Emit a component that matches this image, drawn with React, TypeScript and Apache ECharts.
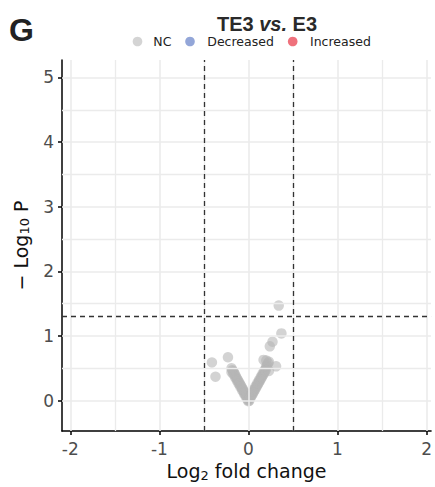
import React, { useEffect, useRef } from "react";
import * as echarts from "echarts";

const xTicks = [-2, -1, 0, 1, 2];
const yTicks = [0, 1, 2, 3, 4, 5];
const xMinor = [-1.5, -0.5, 0.5, 1.5];
const yMinor = [0.5, 1.5, 2.5, 3.5, 4.5];
const foldThresholds = [-0.5, 0.5];
const pThreshold = 1.30103;

const legendNames = ["NC", "Decreased", "Increased"];
const legendColors = ["#d4d4d4", "#93a6d8", "#ef717c"];

// [log2 fold change, -log10 P]
const ncPoints: number[][] = [
  [-0.19, 0.5], [-0.18, 0.47], [-0.17, 0.45], [-0.17, 0.41], [-0.16, 0.43], [-0.15, 0.4],
  [-0.15, 0.36], [-0.14, 0.37], [-0.13, 0.34], [-0.13, 0.31], [-0.12, 0.32], [-0.11, 0.29],
  [-0.11, 0.26], [-0.1, 0.27], [-0.09, 0.24], [-0.09, 0.21], [-0.08, 0.22], [-0.07, 0.19],
  [-0.07, 0.16], [-0.06, 0.17], [-0.05, 0.14], [-0.05, 0.11], [-0.04, 0.12], [-0.03, 0.09],
  [-0.03, 0.06], [-0.02, 0.07], [-0.01, 0.04], [-0.01, 0.01], [0.0, 0.02], [0.0, -0.01],
  [0.01, 0.0], [0.02, 0.04], [0.02, 0.07], [0.03, 0.06], [0.04, 0.09], [0.04, 0.12],
  [0.05, 0.11], [0.06, 0.14], [0.06, 0.17], [0.07, 0.16], [0.08, 0.19], [0.08, 0.22],
  [0.09, 0.21], [0.1, 0.24], [0.1, 0.27], [0.11, 0.26], [0.12, 0.29], [0.12, 0.32],
  [0.13, 0.31], [0.14, 0.34], [0.14, 0.37], [0.15, 0.36], [0.16, 0.39], [0.16, 0.42],
  [0.17, 0.41], [0.18, 0.44], [0.18, 0.47], [0.19, 0.46], [0.2, 0.5], [0.2, 0.53],
  [0.21, 0.55], [0.22, 0.58], [0.23, 0.6],
  [0.34, 1.47], [0.37, 1.04], [0.27, 0.91], [0.24, 0.84], [-0.41, 0.59], [-0.23, 0.67],
  [-0.37, 0.37], [0.31, 0.53], [0.2, 0.62], [-0.19, 0.44], [0.23, 0.46], [0.17, 0.63],
];
const decreasedPoints: number[][] = [];
const increasedPoints: number[][] = [];

export default function App() {
  const ref = useRef<HTMLDivElement>(null);
  useEffect(() => {
    if (!ref.current) return;
    const chart = echarts.init(ref.current, undefined, { renderer: "svg" });
    const tickFont = { fontFamily: "DejaVu Sans", fontSize: 17, color: "#4d4d4d" };
    const nameFont = { fontFamily: "DejaVu Sans", fontSize: 19, color: "#111" };
    const gridLine = { color: "#ebebeb", width: 1.6, type: "solid" as const };
    chart.setOption({
      animation: false,
      backgroundColor: "#ffffff",
      title: {
        text: "{b|TE3 }{i|vs.}{b| E3}",
        left: 262,
        top: 9,
        textAlign: "center",
        textStyle: {
          rich: {
            b: { fontFamily: "Liberation Sans", fontWeight: "bold", fontSize: 20, color: "#2a2a2a" },
            i: { fontFamily: "Liberation Sans", fontWeight: "bold", fontStyle: "italic", fontSize: 20, color: "#2a2a2a" },
          },
        },
      },
      graphic: [
        {
          type: "text",
          left: 9,
          top: 14,
          style: { text: "G", font: "bold 32px 'Liberation Sans'", fill: "#222" },
        },
        ...legendNames.flatMap((n, i) => {
          const cx = [137.5, 190, 292.7][i];
          const tx = [153.3, 207.3, 310][i];
          return [
            { type: "circle", shape: { cx, cy: 41.5, r: 4.8 }, style: { fill: legendColors[i] } },
            {
              type: "text",
              x: tx,
              y: 41.5,
              style: {
                text: n,
                font: "12.5px 'DejaVu Sans'",
                fill: "#222",
                verticalAlign: "middle",
                align: "left",
              },
            },
          ];
        }),
      ],
      grid: { left: 62, top: 60, right: 0, bottom: 56 },
      xAxis: {
        type: "value",
        min: -2.093,
        max: 2.05,
        splitLine: { show: false },
        axisLine: { show: true, onZero: false, lineStyle: { color: "#000", width: 1.5 } },
        axisTick: { show: true, length: 4, lineStyle: { color: "#000", width: 1.5 }, customValues: xTicks },
        axisLabel: { ...tickFont, margin: 9, customValues: xTicks },
        name: "{n|Log}{s|2}{n| fold change}",
        nameLocation: "middle",
        nameGap: 29,
        nameTextStyle: {
          rich: {
            n: { ...nameFont },
            s: { ...nameFont, fontSize: 13, verticalAlign: "bottom", padding: [8, 0, 0, 0] },
          },
        },
      },
      yAxis: {
        type: "value",
        min: -0.47,
        max: 5.27,
        splitLine: { show: false },
        axisLine: { show: true, onZero: false, lineStyle: { color: "#000", width: 1.5 } },
        axisTick: { show: true, length: 4, lineStyle: { color: "#000", width: 1.5 }, customValues: yTicks },
        axisLabel: { ...tickFont, margin: 8, customValues: yTicks },
        name: "{n|− Log}{s|10}{n| P}",
        nameLocation: "middle",
        nameRotate: 90,
        nameGap: 31,
        nameTextStyle: {
          rich: {
            n: { ...nameFont },
            s: { ...nameFont, fontSize: 13, verticalAlign: "bottom", padding: [8, 0, 0, 0] },
          },
        },
      },
      series: [
        {
          type: "scatter",
          name: "grid",
          data: [],
          z: 1,
          silent: true,
          markLine: {
            silent: true,
            symbol: ["none", "none"],
            label: { show: false },
            lineStyle: gridLine,
            data: [
              ...xTicks.map((v) => ({ xAxis: v })),
              ...xMinor.map((v) => ({ xAxis: v, lineStyle: { ...gridLine, width: 1.3 } })),
              ...yTicks.map((v) => ({ yAxis: v })),
              ...yMinor.map((v) => ({ yAxis: v, lineStyle: { ...gridLine, width: 1.3 } })),
            ],
          },
        },
        {
          type: "scatter",
          name: "NC",
          data: ncPoints,
          z: 3,
          symbolSize: 10.5,
          itemStyle: { color: "#b5b5b5", opacity: 0.6 },
        },
        { type: "scatter", name: "Decreased", data: decreasedPoints, symbolSize: 10, itemStyle: { color: legendColors[1] } },
        { type: "scatter", name: "Increased", data: increasedPoints, symbolSize: 10, itemStyle: { color: legendColors[2] } },
        {
          type: "scatter",
          name: "thresholds",
          data: [],
          z: 4,
          silent: true,
          markLine: {
            silent: true,
            symbol: ["none", "none"],
            label: { show: false },
            lineStyle: { color: "#333", width: 1.3, type: [5, 4] },
            data: [
              ...foldThresholds.map((v) => ({ xAxis: v })),
              { yAxis: pThreshold },
            ],
          },
        },
      ],
    });
    return () => chart.dispose();
  }, []);
  return (
    <div
      ref={ref}
      style={{ position: "fixed", left: 0, top: 0, width: 435, height: 487 }}
    />
  );
}
